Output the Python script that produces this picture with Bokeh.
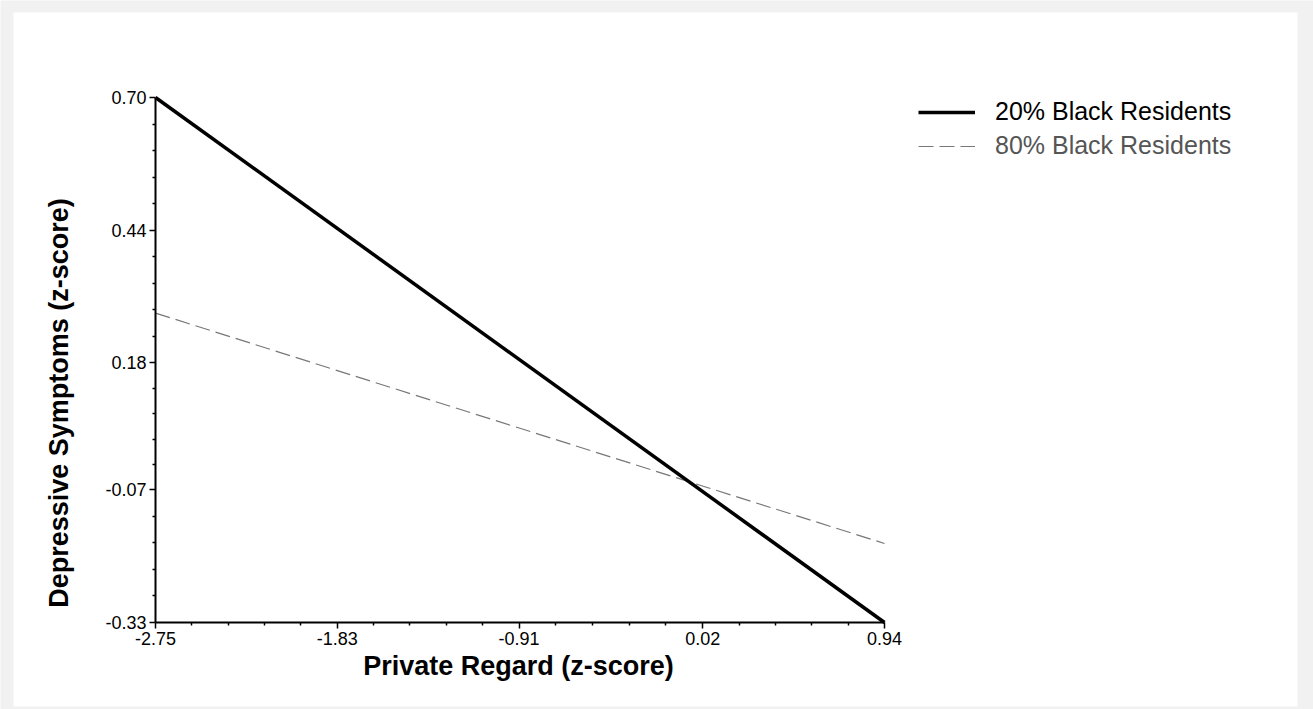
import numpy as np
from bokeh.plotting import figure
from bokeh.models import (Range1d, FixedTicker, NumeralTickFormatter, Legend, LegendItem,
                          Label, ColumnDataSource, BoxAnnotation)
from bokeh.embed import file_html
from bokeh.resources import INLINE

# ---- data ----
x_ticks = [-2.75, -1.83, -0.91, 0.02, 0.94]
y_ticks = [-0.33, -0.07, 0.18, 0.44, 0.70]
regard = [-2.75, 0.94]
symptoms_20 = [0.70, -0.33]
symptoms_80 = [0.277, -0.175]
series_names = ["20% Black Residents", "80% Black Residents"]
x_title = "Private Regard (z-score)"
y_title = "Depressive Symptoms (z-score)"

FONT = "Liberation Sans"
W, H = 1313, 709
AX_L, AX_R = 155, 884       # axis start/end in canvas px (x)
AX_T, AX_B = 97, 622        # axis top/bottom in canvas px (y)

def minor_between(ticks, n=5):
    out = []
    for a, b in zip(ticks[:-1], ticks[1:]):
        out.extend(list(np.linspace(a, b, n + 1)[1:-1]))
    return out

# ranges so that the axes (drawn at fixed locations) sit where the reference has them
x0, x1 = x_ticks[0], x_ticks[-1]
y0, y1 = y_ticks[0], y_ticks[-1]
sx = (AX_R - AX_L) / (x1 - x0)
sy = (AX_B - AX_T) / (y1 - y0)
x_range = Range1d(x0 - AX_L / sx, x1 + (W - AX_R) / sx)
y_range = Range1d(y0 - (H - AX_B) / sy, y1 + AX_T / sy)

p = figure(width=W, height=H, output_backend="svg", toolbar_location=None,
           x_range=x_range, y_range=y_range, min_border=0)
p.outline_line_color = None
p.xgrid.visible = False
p.ygrid.visible = False
p.background_fill_color = "#f1f1f1"
p.border_fill_color = "#f1f1f1"

card = BoxAnnotation(left=13, right=1297, bottom=3, top=697, left_units="screen",
                     right_units="screen", bottom_units="screen", top_units="screen",
                     fill_color="white", fill_alpha=1, line_color=None, level="underlay")
p.add_layout(card)

src = ColumnDataSource(dict(x=regard, y20=symptoms_20, y80=symptoms_80))
r80 = p.line("x", "y80", source=src, line_color="#777777", line_width=1.2, line_dash="15 6")
r20 = p.line("x", "y20", source=src, line_color="black", line_width=3.5)

p.xaxis.fixed_location = y0
p.yaxis.fixed_location = x0
for ax, ticks in ((p.xaxis[0], x_ticks), (p.yaxis[0], y_ticks)):
    ax.bounds = (ticks[0], ticks[-1])
    ax.ticker = FixedTicker(ticks=ticks, minor_ticks=minor_between(ticks))
    ax.formatter = NumeralTickFormatter(format="0.00")
    ax.axis_line_color = "black"
    ax.axis_line_width = 2
    ax.major_tick_line_color = "black"
    ax.major_tick_line_width = 1.5
    ax.minor_tick_line_color = "black"
    ax.minor_tick_line_width = 1.5
    ax.major_tick_in = 0
    ax.major_tick_out = 6
    ax.minor_tick_in = 0
    ax.minor_tick_out = 3
    ax.major_label_text_font = FONT
    ax.major_label_text_font_size = "18px"
    ax.major_label_text_color = "black"
    ax.major_label_standoff = 3

xlab = Label(x=518, y=44, x_units="screen", y_units="screen", text=x_title,
             text_align="center", text_baseline="middle",
             text_font=FONT, text_font_size="27px", text_font_style="bold", text_color="black")
ylab = Label(x=58, y=306.5, x_units="screen", y_units="screen", text=y_title,
             angle=90, angle_units="deg", text_align="center", text_baseline="middle",
             text_font=FONT, text_font_size="27px", text_font_style="bold", text_color="black")
p.add_layout(xlab)
p.add_layout(ylab)

common = dict(padding=0, spacing=0, margin=0, border_line_alpha=0, background_fill_alpha=0,
              glyph_width=57, glyph_height=28, label_height=28, label_standoff=20,
              label_text_font=FONT, label_text_font_size="25px")
leg1 = Legend(items=[LegendItem(label=series_names[0], renderers=[r20])],
              location=(918, 583), label_text_color="black", **common)
leg2 = Legend(items=[LegendItem(label=series_names[1], renderers=[r80])],
              location=(918, 549), label_text_color="#555555", **common)
p.add_layout(leg1)
p.add_layout(leg2)

open("out.html", "w").write(file_html(p, INLINE))
